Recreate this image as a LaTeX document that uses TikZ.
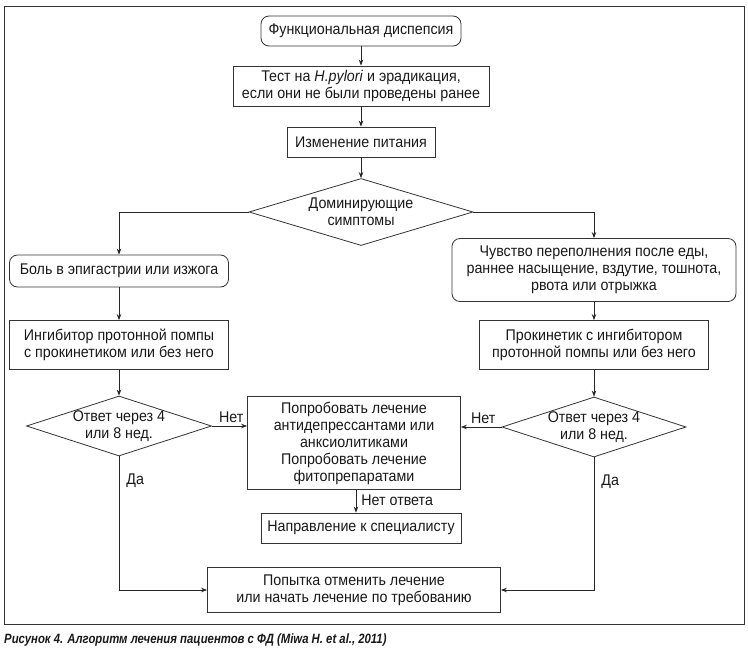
\documentclass[tikz,border=0pt]{standalone}
\usepackage{fontspec}
\setmainfont[FakeStretch=0.92]{Liberation Sans}
\newfontfamily\capfont[FakeStretch=0.84]{Liberation Sans}
\usetikzlibrary{shapes.geometric,arrows.meta}
\begin{document}
\begin{tikzpicture}[x=1pt,y=-1pt,
  every node/.style={font=\fontsize{15.5}{17}\selectfont, text=black!90},
  box/.style={draw=black!80, line width=0.8pt, rectangle, align=center, inner sep=0pt},
  rbox/.style={box, rounded corners=8pt},
  dia/.style={draw=black!80, line width=0.8pt, diamond, inner sep=0pt},
  lbl/.style={inner sep=1pt},
  arr/.style={draw=black!85, line width=0.8pt, -{Stealth[length=6pt,width=4.5pt]}},
  ]
\useasboundingbox (0,0) rectangle (748,651);
\draw[black!80, line width=0.8pt] (4,6) rectangle (744,624);

\node[rbox, minimum width=200, minimum height=30] (fd) at (361,31) {Функциональная диспепсия};
\node[box, minimum width=256, minimum height=40] (test) at (361,86) {Тест на \textit{H.pylori} и эрадикация,\\если они не были проведены ранее};
\node[box, minimum width=148, minimum height=30] (diet) at (361,142) {Изменение питания};
\node[dia, minimum width=224, minimum height=67] (dom) at (361,212) {};
\node[align=center] (domt) at (dom) {Доминирующие\\симптомы};

\node[rbox, minimum width=219, minimum height=32] (pain) at (119,271) {Боль в эпигастрии или изжога};
\node[rbox, minimum width=284, minimum height=63] (full) at (594,270) {Чувство переполнения после еды,\\раннее насыщение, вздутие, тошнота,\\рвота или отрыжка};
\node[box, minimum width=219, minimum height=49] (ipp) at (119,345) {Ингибитор протонной помпы\\с прокинетиком или без него};
\node[box, minimum width=229, minimum height=49] (prok) at (594,345) {Прокинетик с ингибитором\\протонной помпы или без него};

\node[dia, minimum width=185, minimum height=60] (d1) at (119,426) {};
\node[align=center] (d1t) at (d1) {Ответ через 4\\или 8 нед.};
\node[dia, minimum width=184, minimum height=60] (d2) at (594,427) {};
\node[align=center] (d2t) at (d2) {Ответ через 4\\или 8 нед.};

\node[box, minimum width=213, minimum height=93] (try) at (354,443) {Попробовать лечение\\антидепрессантами или\\анксиолитиками\\Попробовать лечение\\фитопрепаратами};
\node[box, minimum width=200, minimum height=30] (spec) at (361,528) {Направление к специалисту};
\node[box, minimum width=293, minimum height=45] (stop) at (354,590) {Попытка отменить лечение\\или начать лечение по требованию};

\draw[arr] (fd) -- (test);
\draw[arr] (test) -- (diet);
\draw[arr] (diet) -- (dom.north);
\draw[arr] (dom.west) -| (pain.north);
\draw[arr] (dom.east) -| (full.north);
\draw[arr] (pain) -- (ipp);
\draw[arr] (full) -- (prok);
\draw[arr] (ipp) -- (d1.north);
\draw[arr] (prok) -- (d2.north);
\draw[arr] (d1.east) -- (d1.east -| try.west) node[lbl, pos=0.55, above=2pt] (n1) {Нет};
\draw[arr] (d2.west) -- (d2.west -| try.east) node[lbl, pos=0.45, above=2pt] (n2) {Нет};
\draw[arr] (try.south -| 356,0) -- (spec.north -| 356,0) node[lbl, pos=0.45, right=4pt] (na) {Нет ответа};
\draw[arr] (d1.south) |- (stop.west) node[lbl, pos=0.09, right=6pt] (y1) {Да};
\draw[arr] (d2.south) |- (stop.east) node[lbl, pos=0.09, right=6pt] (y2) {Да};

\node[anchor=west, inner sep=0pt, font=\capfont\fontsize{13.5}{15}\selectfont\bfseries\itshape] (cap) at (4,640) {Рисунок 4. Алгоритм лечения пациентов с ФД (Miwa H. et al., 2011)};
\end{tikzpicture}
\end{document}
